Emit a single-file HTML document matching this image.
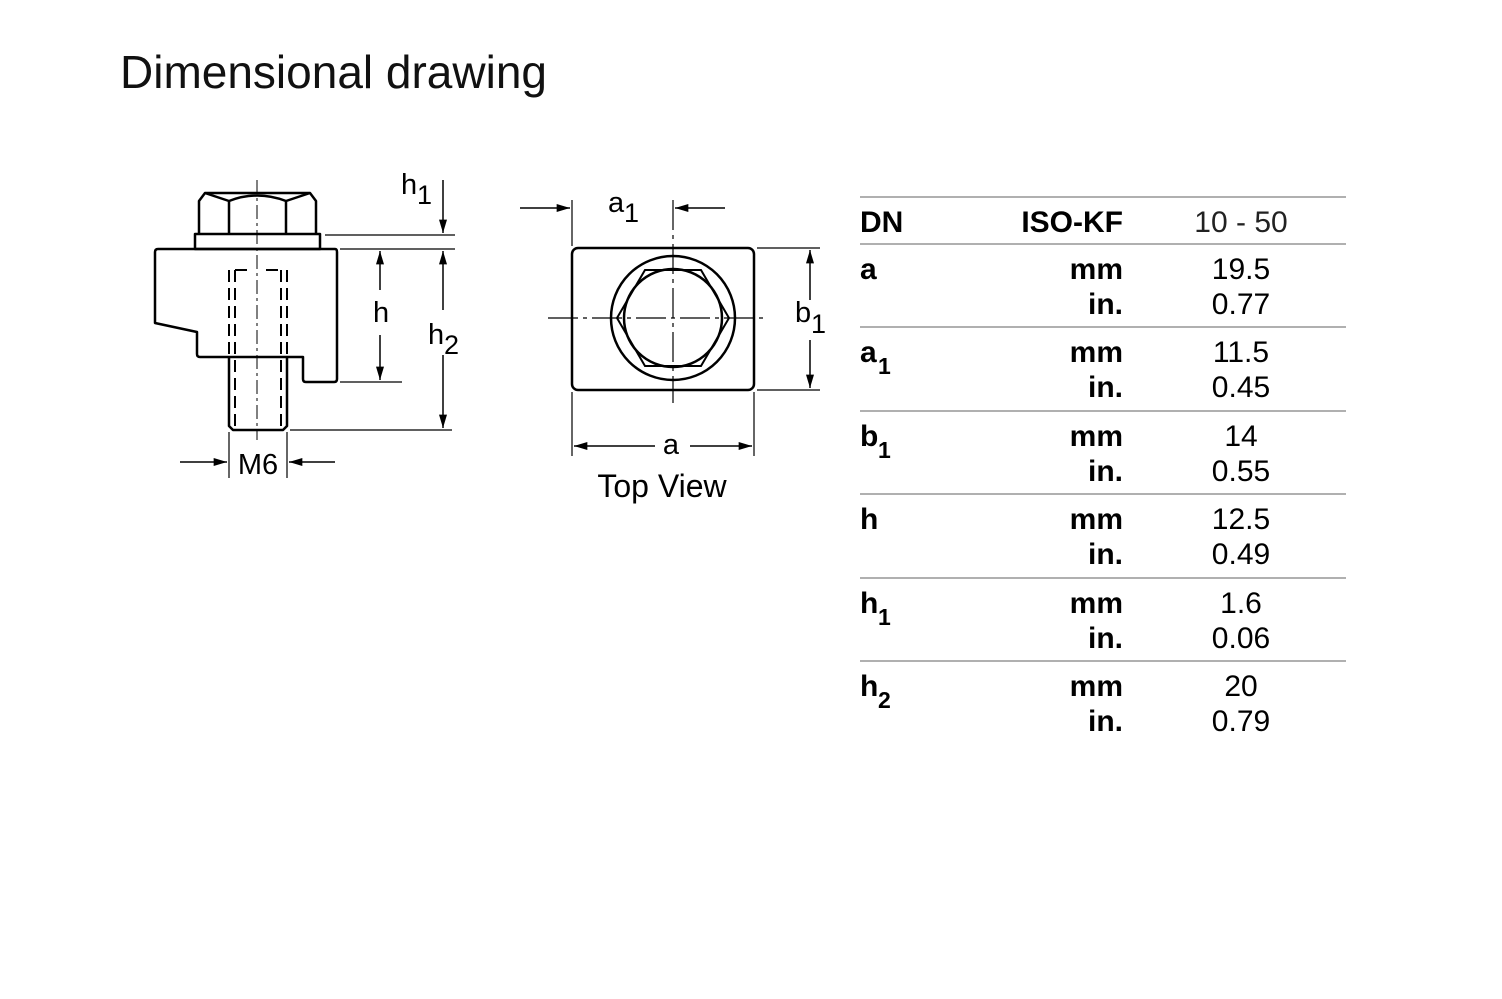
<!DOCTYPE html>
<html><head><meta charset="utf-8"><style>
html,body{margin:0;padding:0;background:#fff;}
svg{display:block;font-family:"Liberation Sans",Arial,sans-serif;}
</style></head><body>
<svg width="1502" height="999" viewBox="0 0 1502 999" xmlns="http://www.w3.org/2000/svg">
<defs>
<marker id="ar" viewBox="0 0 10 6" refX="10" refY="3" markerWidth="18" markerHeight="8" markerUnits="userSpaceOnUse" orient="auto"><path d="M0,0 L10,3 L0,6 Z" fill="#000"/></marker>
</defs>
<text x="120" y="88" font-size="46" textLength="427" fill="#111">Dimensional drawing</text>

<!-- side view -->
<g fill="none" stroke="#000" stroke-width="2.5" stroke-linejoin="round">
<path d="M199,234 L199,201 L205,193 L310,193 L316,201 L316,234"/>
<path d="M229,234 L229,201 Q257,190 286,201 L286,234 M205,193 L229,201 M310,193 L286,201"/>
<rect x="195" y="234" width="125" height="15"/>
<path d="M158,249 L335,249 Q337,249 337,252 L337,379 Q337,382 334,382 L306,382 Q303,382 303,379 L303,357 L200,357 Q197,357 197,354 L197,332 L155,323 L155,252 Q155,249 158,249 Z"/>
<path d="M229,357 L229,426 L233,430 L283,430 L287,426 L287,357"/>
</g>
<g stroke="#000" stroke-width="2" stroke-dasharray="12,6" fill="none">
<path d="M229,270 L229,357 M235,270 L235,430 M281,270 L281,430 M287,270 L287,357"/>
<path d="M235,270 L250,270 M266,270 L281,270"/>
</g>
<path d="M257,180 L257,440" stroke="#000" stroke-width="1" stroke-dasharray="14,4,3,4"/>
<g stroke="#000" stroke-width="1.2" fill="none">
<path d="M325,235 L455,235 M340,249 L455,249 M340,382 L402,382 M290,430 L452,430"/>
<path d="M229,432 L229,478 M287,432 L287,478"/>
</g>
<g stroke="#000" stroke-width="1.5" fill="none">
<path d="M443,180 L443,233" marker-end="url(#ar)"/>
<path d="M380,290 L380,251" marker-end="url(#ar)"/><path d="M380,335 L380,380" marker-end="url(#ar)"/>
<path d="M443,310 L443,251" marker-end="url(#ar)"/><path d="M443,355 L443,428" marker-end="url(#ar)"/>
<path d="M180,462 L227,462" marker-end="url(#ar)"/><path d="M335,462 L289,462" marker-end="url(#ar)"/>
</g>
<g font-size="29" fill="#000">
<text x="401" y="194">h</text><text x="417" y="204" font-size="27">1</text>
<text x="373" y="322">h</text>
<text x="428" y="344">h</text><text x="444" y="354" font-size="27">2</text>
<text x="258" y="474" text-anchor="middle">M6</text>
</g>

<!-- top view -->
<g fill="none" stroke="#000" stroke-width="2.5">
<rect x="572" y="248" width="182" height="142" rx="6"/>
<circle cx="673" cy="318" r="62"/>
<circle cx="673" cy="318" r="49"/>
<path d="M617,318 L645,270 L701,270 L729,318 L701,366 L645,366 Z" stroke-width="2"/>
</g>
<g stroke="#000" stroke-width="1.2" fill="none">
<path d="M548,318 L767,318" stroke-dasharray="30,5,4,5"/>
<path d="M673,200 L673,403" stroke-dasharray="30,5,4,5"/>
<path d="M572,200 L572,246 M572,392 L572,456 M754,392 L754,456 M757,248 L820,248 M757,390 L820,390"/>
</g>
<g stroke="#000" stroke-width="1.5" fill="none">
<path d="M520,208 L570,208" marker-end="url(#ar)"/><path d="M725,208 L675,208" marker-end="url(#ar)"/>
<path d="M655,446 L574,446" marker-end="url(#ar)"/><path d="M690,446 L752,446" marker-end="url(#ar)"/>
<path d="M810,300 L810,250" marker-end="url(#ar)"/><path d="M810,340 L810,388" marker-end="url(#ar)"/>
</g>
<g font-size="29" fill="#000">
<text x="608" y="212">a</text><text x="624" y="222" font-size="27">1</text>
<text x="671" y="454" text-anchor="middle">a</text>
<text x="795" y="322">b</text><text x="811" y="333" font-size="27">1</text>
<text x="662" y="497" text-anchor="middle" font-size="32">Top View</text>
</g>

<!-- table -->
<g stroke="#b0b0b0" stroke-width="2">
<path d="M860,197 H1346 M860,244 H1346 M860,327 H1346 M860,411 H1346 M860,494 H1346 M860,578 H1346 M860,661 H1346"/>
</g>
<g font-size="30" fill="#000">
<text x="860" y="232" font-weight="bold">DN</text>
<text x="1123" y="232" font-weight="bold" text-anchor="end">ISO-KF</text>
<text x="1241" y="232" text-anchor="middle" fill="#222">10 - 50</text>

<text x="860" y="279" font-weight="bold">a</text>
<text x="1123" y="279" font-weight="bold" text-anchor="end">mm</text><text x="1241" y="279" text-anchor="middle">19.5</text>
<text x="1123" y="314" font-weight="bold" text-anchor="end">in.</text><text x="1241" y="314" text-anchor="middle">0.77</text>

<text x="860" y="362" font-weight="bold">a</text><text x="878" y="374" font-weight="bold" font-size="23">1</text>
<text x="1123" y="362" font-weight="bold" text-anchor="end">mm</text><text x="1241" y="362" text-anchor="middle">11.5</text>
<text x="1123" y="397" font-weight="bold" text-anchor="end">in.</text><text x="1241" y="397" text-anchor="middle">0.45</text>

<text x="860" y="446" font-weight="bold">b</text><text x="878" y="458" font-weight="bold" font-size="23">1</text>
<text x="1123" y="446" font-weight="bold" text-anchor="end">mm</text><text x="1241" y="446" text-anchor="middle">14</text>
<text x="1123" y="481" font-weight="bold" text-anchor="end">in.</text><text x="1241" y="481" text-anchor="middle">0.55</text>

<text x="860" y="529" font-weight="bold">h</text>
<text x="1123" y="529" font-weight="bold" text-anchor="end">mm</text><text x="1241" y="529" text-anchor="middle">12.5</text>
<text x="1123" y="564" font-weight="bold" text-anchor="end">in.</text><text x="1241" y="564" text-anchor="middle">0.49</text>

<text x="860" y="613" font-weight="bold">h</text><text x="878" y="625" font-weight="bold" font-size="23">1</text>
<text x="1123" y="613" font-weight="bold" text-anchor="end">mm</text><text x="1241" y="613" text-anchor="middle">1.6</text>
<text x="1123" y="648" font-weight="bold" text-anchor="end">in.</text><text x="1241" y="648" text-anchor="middle">0.06</text>

<text x="860" y="696" font-weight="bold">h</text><text x="878" y="708" font-weight="bold" font-size="23">2</text>
<text x="1123" y="696" font-weight="bold" text-anchor="end">mm</text><text x="1241" y="696" text-anchor="middle">20</text>
<text x="1123" y="731" font-weight="bold" text-anchor="end">in.</text><text x="1241" y="731" text-anchor="middle">0.79</text>
</g>
</svg>
</body></html>
